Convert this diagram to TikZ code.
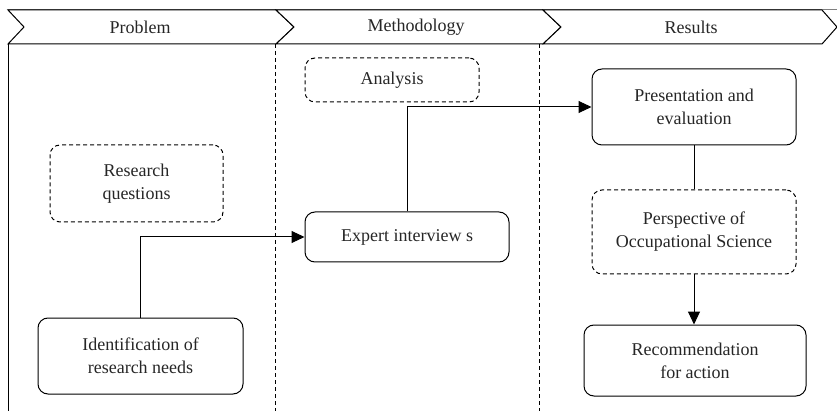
\documentclass[tikz,border=0pt]{standalone}
\usepackage{fontspec}
\setmainfont{Liberation Serif}
\usetikzlibrary{arrows.meta}
\begin{document}
\begin{tikzpicture}[x=1pt,y=-1pt,
  txt/.style={font=\fontsize{18}{23}\selectfont, text=black!85},
  box/.style={txt, draw=black, rounded corners=10pt, line width=1pt, align=center, inner sep=0pt},
  dbox/.style={box, dash pattern=on 4pt off 3pt},
  phase/.style={draw=black, line width=1pt, fill=white},
  divider/.style={line width=0.9pt, dash pattern=on 4pt off 3pt},
  link/.style={line width=1pt},
  arr/.style={link, -{Triangle[length=13pt,width=12pt]}}
]
\useasboundingbox (0,0) rectangle (837,411);

% frame
\draw[black!50, line width=0.8pt] (8,9) -- (837,9);
\draw[line width=1pt] (8,44) -- (8,411);

% phase dividers
\draw[divider] (275,44) -- (275,411);
\draw[divider] (539,44) -- (539,411);

% phase chevrons
\draw[phase] (8,10) -- (276,10) -- (294,27) -- (276,44) -- (8,44) -- (24,27) -- cycle;
\draw[phase] (276,10) -- (543,10) -- (561,27) -- (543,44) -- (276,44) -- (294,27) -- cycle;
\draw[phase] (543,10) -- (822,10) -- (837,27) -- (822,44) -- (543,44) -- (561,27) -- cycle;
\node[txt] (pProblem) at (140,27) {Problem};
\node[txt] (pMethod) at (416,27) {Methodology};
\node[txt] (pResults) at (691,27) {Results};

% activities
\node[dbox, minimum width=173pt, minimum height=77pt] (rq) at (136.5,183.5) {Research\\questions};
\node[box, minimum width=205pt, minimum height=76pt] (ident) at (140.5,356) {Identification of\\research needs};
\node[dbox, minimum width=174pt, minimum height=44pt] (analysis) at (392,80) {Analysis};
\node[box, minimum width=204pt, minimum height=50pt] (expert) at (407,237) {Expert interview s};
\node[box, minimum width=204pt, minimum height=76pt] (pres) at (694,107) {Presentation and\\evaluation};
\node[dbox, minimum width=204pt, minimum height=84pt] (persp) at (694,232) {Perspective of\\Occupational Science};
\node[box, minimum width=222pt, minimum height=71pt] (rec) at (695,360.5) {Recommendation\\for action};

% connectors
\draw[arr] (ident.north) |- (expert.west);
\draw[arr] (expert.north) |- (pres.west);
\draw[link] (pres.south) -- (persp.north);
\draw[arr] (persp.south) -- (persp.south |- rec.north);
\end{tikzpicture}
\end{document}
